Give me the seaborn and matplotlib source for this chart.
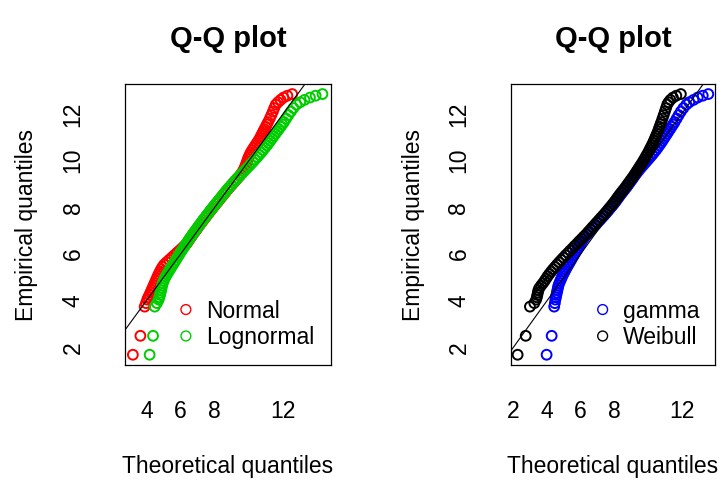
import numpy as np
import pandas as pd
import matplotlib
matplotlib.use('Agg')
import matplotlib.pyplot as plt
import seaborn as sns

# 経験分位点 (ソート済みのサンプル、4つの分布で共通)
emp_q = [1.69, 2.5, 3.75, 3.9, 4.05, 4.15, 4.25, 4.35, 4.45, 4.55, 4.65, 4.75, 4.85, 4.95,
         5.05, 5.15, 5.25, 5.35, 5.45, 5.55, 5.65, 5.75, 5.85, 5.95, 6.05, 6.15, 6.25, 6.35,
         6.45, 6.55, 6.65, 6.75, 6.85, 6.95, 7.05, 7.15, 7.25, 7.35, 7.45, 7.55, 7.65, 7.75,
         7.85, 7.95, 8.05, 8.15, 8.25, 8.35, 8.45, 8.55, 8.65, 8.75, 8.85, 8.95, 9.05, 9.15,
         9.25, 9.35, 9.45, 9.55, 9.65, 9.75, 9.85, 9.95, 10.05, 10.15, 10.25, 10.35, 10.45,
         10.55, 10.65, 10.75, 10.85, 10.95, 11.05, 11.15, 11.25, 11.35, 11.45, 11.55, 11.65,
         11.8, 11.95, 12.1, 12.25, 12.4, 12.5, 12.6, 12.7, 12.78, 12.85]

# 理論分位点 (各フィット分布)
norm_q = [3.21, 3.65, 3.90, 3.98, 4.05, 4.11, 4.18, 4.24, 4.30, 4.36, 4.42, 4.48, 4.54, 4.60,
          4.66, 4.72, 4.79, 4.86, 4.94, 5.04, 5.18, 5.33, 5.48, 5.63, 5.78, 5.93, 6.08, 6.22,
          6.36, 6.45, 6.54, 6.64, 6.73, 6.83, 6.93, 7.03, 7.13, 7.23, 7.33, 7.44, 7.54, 7.65,
          7.75, 7.86, 7.97, 8.08, 8.19, 8.30, 8.41, 8.52, 8.63, 8.74, 8.86, 8.98, 9.10, 9.22,
          9.34, 9.46, 9.56, 9.65, 9.72, 9.78, 9.83, 9.88, 9.93, 9.98, 10.04, 10.11, 10.19,
          10.28, 10.37, 10.46, 10.55, 10.63, 10.70, 10.77, 10.84, 10.91, 10.98, 11.05, 11.12,
          11.22, 11.31, 11.40, 11.48, 11.57, 11.70, 11.85, 12.02, 12.25, 12.53]
lnorm_q = [4.19, 4.39, 4.49, 4.62, 4.72, 4.76, 4.80, 4.83, 4.86, 4.89, 4.92, 4.96, 5.01, 5.07,
           5.14, 5.22, 5.30, 5.39, 5.47, 5.56, 5.64, 5.73, 5.81, 5.90, 5.98, 6.07, 6.16, 6.25,
           6.34, 6.43, 6.52, 6.62, 6.71, 6.81, 6.91, 7.01, 7.11, 7.21, 7.31, 7.42, 7.52, 7.63,
           7.73, 7.84, 7.95, 8.06, 8.17, 8.28, 8.39, 8.50, 8.61, 8.72, 8.84, 8.96, 9.08, 9.20,
           9.33, 9.46, 9.59, 9.72, 9.85, 9.98, 10.11, 10.24, 10.36, 10.48, 10.60, 10.72, 10.83,
           10.94, 11.05, 11.15, 11.25, 11.35, 11.45, 11.55, 11.65, 11.75, 11.85, 11.95, 12.05,
           12.18, 12.31, 12.45, 12.60, 12.78, 13.00, 13.25, 13.57, 13.90, 14.30]
gamma_q = [3.98, 4.28, 4.43, 4.47, 4.50, 4.53, 4.56, 4.59, 4.62, 4.65, 4.68, 4.73, 4.79, 4.85,
           4.91, 4.98, 5.05, 5.12, 5.20, 5.28, 5.36, 5.44, 5.52, 5.60, 5.68, 5.76, 5.84, 5.92,
           6.00, 6.08, 6.17, 6.27, 6.39, 6.51, 6.64, 6.76, 6.89, 7.01, 7.14, 7.26, 7.39, 7.51,
           7.63, 7.74, 7.86, 7.97, 8.08, 8.18, 8.28, 8.38, 8.49, 8.60, 8.71, 8.81, 8.91, 9.01,
           9.11, 9.21, 9.31, 9.42, 9.53, 9.65, 9.77, 9.89, 10.01, 10.13, 10.25, 10.36, 10.47,
           10.57, 10.67, 10.77, 10.86, 10.95, 11.04, 11.13, 11.22, 11.31, 11.40, 11.49, 11.58,
           11.70, 11.82, 11.95, 12.10, 12.28, 12.45, 12.70, 12.95, 13.25, 13.58]
weib_q = [2.26, 2.74, 2.99, 3.25, 3.36, 3.40, 3.43, 3.46, 3.49, 3.55, 3.65, 3.76, 3.86, 3.95,
          4.04, 4.14, 4.25, 4.36, 4.48, 4.60, 4.72, 4.85, 4.98, 5.11, 5.25, 5.38, 5.52, 5.65,
          5.79, 5.92, 6.06, 6.19, 6.33, 6.45, 6.58, 6.70, 6.83, 6.95, 7.08, 7.20, 7.33, 7.45,
          7.57, 7.68, 7.80, 7.91, 8.02, 8.12, 8.22, 8.32, 8.43, 8.54, 8.65, 8.75, 8.85, 8.95,
          9.05, 9.15, 9.24, 9.33, 9.42, 9.51, 9.60, 9.69, 9.77, 9.85, 9.93, 10.01, 10.08,
          10.15, 10.22, 10.29, 10.35, 10.41, 10.47, 10.53, 10.59, 10.64, 10.69, 10.74, 10.79,
          10.86, 10.93, 11.00, 11.07, 11.14, 11.22, 11.33, 11.48, 11.68, 11.95]

left_names = ['Normal', 'Lognormal']
right_names = ['gamma', 'Weibull']
left_cols = ['red', '#00CD00']
right_cols = ['blue', 'black']
left_xticks = [4, 6, 8, 10, 12, 14]
left_xlabels = ['4', '6', '8', '', '12', '']
right_xticks = [2, 4, 6, 8, 10, 12]
right_xlabels = ['2', '4', '6', '8', '', '12']
yticks = [2, 4, 6, 8, 10, 12]
ylabels = ['2', '4', '6', '8', '10', '12']

sns.set_style('white', {'axes.edgecolor': 'black', 'text.color': 'black',
                        'axes.labelcolor': 'black', 'xtick.color': 'black',
                        'ytick.color': 'black'})
plt.rcParams['font.family'] = ['Liberation Sans', 'DejaVu Sans']

FS = 16.5


def qq_panel(ax, series, names, cols, xlim, xticks, xlabels, leg_x):
    #1. 点を描く
    for q, name, col in zip(series, names, cols):
        sns.scatterplot(x=q, y=emp_q, ax=ax, marker='o', s=50, facecolor='none',
                        edgecolor=col, linewidth=1.4, label=name)
    #2. y = x の参照線
    ax.axline((0, 0), slope=1, color='black', lw=0.8)

    #3. 軸
    ax.set_xlim(*xlim)
    ax.set_ylim(1.25, 13.28)
    ax.set_xticks(xticks, labels=xlabels)
    ax.set_yticks(yticks, labels=ylabels)
    ax.tick_params(axis='both', direction='out', length=10, width=0.8, labelsize=FS)
    ax.tick_params(axis='x', pad=15)
    ax.tick_params(axis='y', pad=19)
    for lab in ax.get_yticklabels():
        lab.set_rotation(90)
        lab.set_va('center')
    for sp in ax.spines.values():
        sp.set_visible(True)
        sp.set_color('black')
        sp.set_linewidth(0.9)

    ax.set_title('Q-Q plot', fontsize=21, fontweight='bold', pad=27)
    ax.set_xlabel('Theoretical quantiles', fontsize=FS)
    ax.xaxis.set_label_coords(0.5, -0.32)
    ax.set_ylabel('Empirical quantiles', fontsize=FS)
    ax.yaxis.set_label_coords(-0.42, 0.5)

    #4. 凡例
    leg = ax.legend(loc='lower left', bbox_to_anchor=(leg_x, 0.057), frameon=False,
                    fontsize=FS, handlelength=0.8, handletextpad=0.5, borderpad=0,
                    borderaxespad=0, labelspacing=0.15, scatteryoffsets=[0.5])
    for h in leg.legend_handles:
        h.set_linewidth(1.0)


fig = plt.figure(figsize=(7.23, 4.82), dpi=100)
ax1 = fig.add_axes([0.1729, 0.2427, 0.2849, 0.583])
ax2 = fig.add_axes([0.7064, 0.2427, 0.2826, 0.583])

qq_panel(ax1, [norm_q, lnorm_q], left_names, left_cols, (2.75, 14.8),
         left_xticks, left_xlabels, 0.251)
qq_panel(ax2, [gamma_q, weib_q], right_names, right_cols, (1.85, 13.98),
         right_xticks, right_xlabels, 0.405)

fig.savefig('out.png', dpi=100)
plt.close('all')
